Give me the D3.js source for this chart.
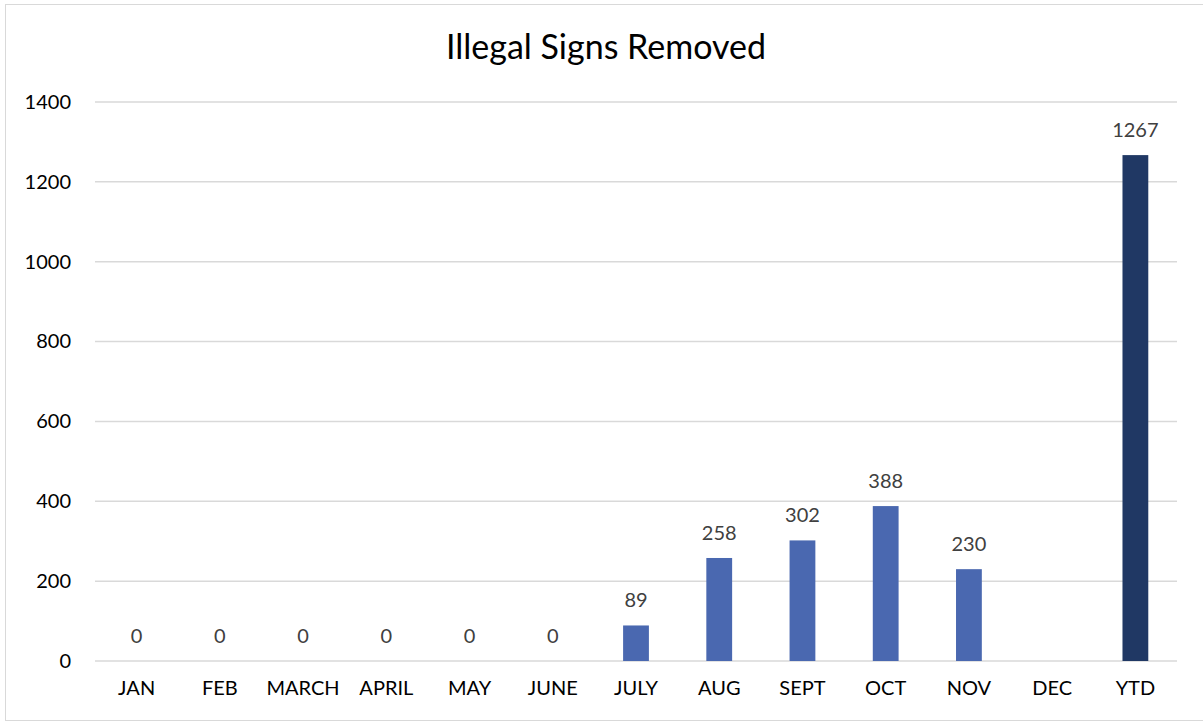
<!DOCTYPE html>
<html>
<head>
<meta charset="utf-8">
<script src="https://cdn.jsdelivr.net/npm/d3@7"></script>
<style>
  body { margin: 0; background: #fff; }
  svg { display: block; font-family: Lato, "Open Sans", sans-serif; }
</style>
</head>
<body>
<svg id="chart" width="1203" height="723"></svg>
<script>
// chart data
var categories = ["JAN", "FEB", "MARCH", "APRIL", "MAY", "JUNE", "JULY", "AUG", "SEPT", "OCT", "NOV", "DEC", "YTD"];
var values = [0, 0, 0, 0, 0, 0, 89, 258, 302, 388, 230, null, 1267];
var yTicks = [0, 200, 400, 600, 800, 1000, 1200, 1400];

var svg = d3.select("#chart");
var plotLeft = 95, plotRight = 1177, plotTop = 102, plotBottom = 661;

// outer frame
svg.append("rect")
  .attr("x", 5.5).attr("y", 4.5)
  .attr("width", 1205).attr("height", 716)
  .attr("fill", "#fff")
  .attr("stroke", "#d9d9d9");

svg.append("text")
  .text("Illegal Signs Removed")
  .attr("x", 606).attr("y", 59)
  .attr("text-anchor", "middle")
  .attr("font-size", 34)
  .attr("fill", "#000");

var x = d3.scaleBand().domain(categories).range([plotLeft, plotRight]).paddingInner(0.69).paddingOuter(0.345);
var y = d3.scaleLinear().domain([0, 1400]).range([plotBottom, plotTop]);

// gridlines
svg.append("g").selectAll("line")
  .data(yTicks)
  .join("line")
  .attr("x1", plotLeft).attr("x2", plotRight)
  .attr("y1", function(d){ return y(d); })
  .attr("y2", function(d){ return y(d); })
  .attr("stroke", "#d9d9d9")
  .attr("stroke-width", 1.5);

// y axis labels
var yAxis = svg.append("g")
  .attr("transform", "translate(" + (plotLeft - 24) + ",0)")
  .call(d3.axisLeft(y).tickValues(yTicks).tickFormat(d3.format("d")).tickSize(0).tickPadding(0));
yAxis.select(".domain").remove();
yAxis.selectAll("text")
  .attr("font-size", 20)
  .attr("font-family", "Lato, 'Open Sans', sans-serif")
  .attr("fill", "#000");

// x axis labels
var xAxis = svg.append("g")
  .attr("transform", "translate(0," + (plotBottom + 20) + ")")
  .call(d3.axisBottom(x).tickSize(0).tickPadding(0));
xAxis.select(".domain").remove();
xAxis.selectAll("text")
  .attr("font-size", 20)
  .attr("font-family", "Lato, 'Open Sans', sans-serif")
  .attr("fill", "#000")
  .attr("dy", "0.71em");

var data = categories.map(function(c, i){ return {cat: c, val: values[i]}; });

svg.append("g").selectAll("rect")
  .data(data.filter(function(d){ return d.val !== null && d.val > 0; }))
  .join("rect")
  .attr("x", function(d){ return x(d.cat); })
  .attr("width", x.bandwidth())
  .attr("y", function(d){ return y(d.val); })
  .attr("height", function(d){ return y(0) - y(d.val); })
  .attr("fill", function(d){ return d.cat == "YTD" ? "#203864" : "#4a68b0"; });

// value labels
svg.append("g").selectAll("text")
  .data(data.filter(function(d){ return d.val !== null; }))
  .join("text")
  .text(function(d){ return d.val; })
  .attr("x", function(d){ return x(d.cat) + x.bandwidth() / 2; })
  .attr("y", function(d){ return y(d.val) - 18; })
  .attr("text-anchor", "middle")
  .attr("font-size", 20)
  .attr("fill", "#404040");
</script>
</body>
</html>
